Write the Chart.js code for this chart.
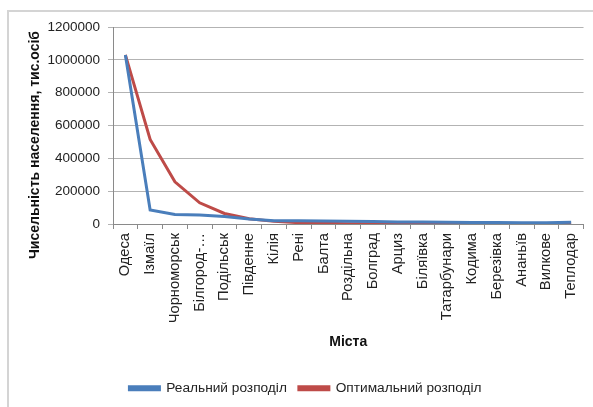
<!DOCTYPE html>
<html>
<head>
<meta charset="utf-8">
<script src="https://cdn.jsdelivr.net/npm/chart.js@4.4.1/dist/chart.umd.min.js"></script>
<style>
html,body{margin:0;padding:0;background:#fff;}
#wrap{position:relative;width:593px;height:407px;}
</style>
</head>
<body>
<div id="wrap"><canvas id="c" width="593" height="407"></canvas></div>
<script>
const categories = ["Одеса","Ізмаїл","Чорноморськ","Білгород-…","Подільськ","Південне","Кілія","Рені","Балта","Роздільна","Болград","Арциз","Біляївка","Татарбунари","Кодима","Березівка","Ананьїв","Вилкове","Теплодар"];
const realValues = [1030000, 85000, 58000, 55000, 45000, 30000, 20000, 20000, 19000, 17000, 15000, 12000, 12000, 11000, 9000, 9000, 8000, 8000, 10000];
const optimalValues = [1030000, 515000, 257000, 129000, 64000, 32000, 16000, 8000, 4000, 2000, 1000, 500, 250, 130, 60, 30, 20, 10, 5];
const yTicks = [0, 200000, 400000, 600000, 800000, 1000000, 1200000];
const seriesNames = ["Реальний розподіл", "Оптимальний розподіл"];
const yTitle = "Чисельність населення, тис.осіб";
const xTitle = "Міста";

const FONT = "'Liberation Sans', Arial, sans-serif";
const PLOT_BOTTOM = 224;
const PAD_LEFT = 26;

const framePlugin = {
  id: 'frame',
  beforeDraw(chart) {
    const ctx = chart.ctx;
    ctx.save();
    ctx.fillStyle = '#fff';
    ctx.fillRect(0, 0, chart.width, chart.height);
    ctx.strokeStyle = '#d4d4d4';
    ctx.lineWidth = 2;
    ctx.beginPath();
    ctx.moveTo(8, 407);
    ctx.lineTo(8, 11);
    ctx.lineTo(593, 11);
    ctx.stroke();
    ctx.restore();
  },
  afterDraw(chart) {
    // y-axis title, placed as in the reference (slightly below the plot centre)
    const ctx = chart.ctx;
    ctx.save();
    ctx.translate(35, 145);
    ctx.rotate(-Math.PI / 2);
    ctx.font = "bold 14px " + FONT;
    ctx.fillStyle = '#111';
    ctx.textAlign = 'center';
    ctx.textBaseline = 'middle';
    ctx.fillText(yTitle, 0, 0);
    ctx.restore();
  }
};

new Chart(document.getElementById('c'), {
  type: 'line',
  data: {
    labels: categories,
    datasets: [
      { label: seriesNames[0], data: realValues, borderColor: '#4a7ebb', backgroundColor: '#4a7ebb', borderWidth: 3, pointRadius: 0, tension: 0 },
      { label: seriesNames[1], data: optimalValues, borderColor: '#be4b48', backgroundColor: '#be4b48', borderWidth: 3, pointRadius: 0, tension: 0 }
    ]
  },
  options: {
    responsive: false,
    animation: false,
    layout: { padding: { top: 27, right: 8, left: PAD_LEFT, bottom: 2 } },
    plugins: {
      tooltip: { enabled: false },
      legend: {
        position: 'bottom',
        labels: {
          boxWidth: 30, boxHeight: 3, padding: 12,
          color: '#222',
          font: { family: FONT, size: 13.7 }
        }
      }
    },
    scales: {
      x: {
        offset: true,
        grid: { offset: true, drawOnChartArea: false, drawTicks: true, tickLength: 5, color: '#8a8a8a' },
        border: { color: '#8a8a8a', width: 1 },
        ticks: { minRotation: 90, maxRotation: 90, autoSkip: false, color: '#222', padding: 4, font: { family: FONT, size: 14.7 } },
        title: { display: true, text: xTitle, color: '#111', padding: { top: 4, bottom: 19 }, font: { family: FONT, size: 14, weight: 'bold' } },
        afterFit(s) {
          const lh = s.chart.legend ? s.chart.legend.height : 35;
          s.height = 407 - PLOT_BOTTOM - lh - 2;
        }
      },
      y: {
        min: 0, max: 1200000,
        afterBuildTicks(s) { s.ticks = yTicks.map(v => ({ value: v })); },
        grid: { color: '#b3b3b3', lineWidth: 1, tickLength: 5, drawTicks: true },
        border: { color: '#8a8a8a', width: 1 },
        ticks: { color: '#222', padding: 8, font: { family: FONT, size: 13.5 }, callback: v => String(v) },
        title: { display: false },
        afterFit(s) { s.width = 113 - PAD_LEFT; }
      }
    }
  },
  plugins: [framePlugin]
});
</script>
</body>
</html>
